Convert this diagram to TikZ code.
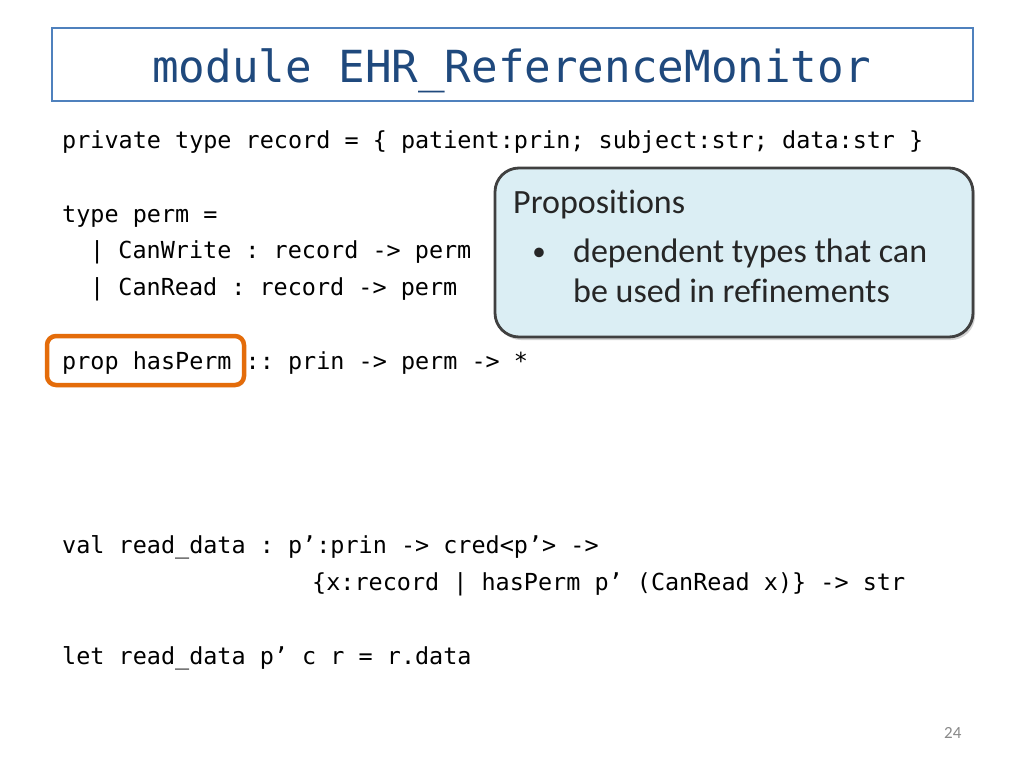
\documentclass[tikz,border=0pt]{standalone}
\usepackage{fontspec}
\usetikzlibrary{shadows}
\newfontfamily\codefont{DejaVu Sans Mono}
\newfontfamily\calfont[Ligatures={NoCommon,NoRequired,NoContextual}]{Carlito}
\definecolor{titleblue}{RGB}{31,73,125}
\definecolor{boxblue}{RGB}{79,129,189}
\definecolor{calloutfill}{RGB}{219,238,244}
\definecolor{calloutdraw}{RGB}{64,64,64}
\definecolor{hlorange}{RGB}{228,108,10}
\definecolor{pagegray}{RGB}{137,137,137}
\definecolor{calltext}{RGB}{38,38,38}
\begin{document}
\frenchspacing
\begin{tikzpicture}[x=1pt,y=-1pt,
  code/.style={anchor=base west,inner sep=0pt,font=\frenchspacing\codefont\fontsize{23.45}{27}\selectfont,text=black},
  calltxt/.style={anchor=base west,inner sep=0pt,font=\calfont\fontsize{34}{40}\selectfont,text=calltext},
  titlebox/.style={draw=boxblue,line width=2pt,minimum width=921pt,minimum height=73pt,inner sep=0pt},
  callout/.style={draw=calloutdraw,line width=2.8pt,fill=calloutfill,rounded corners=24pt,
    minimum width=478pt,minimum height=169pt,inner sep=0pt,
    drop shadow={shadow xshift=2pt,shadow yshift=-3pt,opacity=0.35}},
  hlbox/.style={draw=hlorange,line width=4.5pt,fill=white,rounded corners=9pt,
    minimum width=197pt,minimum height=49pt,inner sep=0pt,
    drop shadow={shadow xshift=1.5pt,shadow yshift=-2pt,opacity=0.25,fill=black!60}}
]
\useasboundingbox[fill=white] (0,0) rectangle (1024,768);

% title
\node[titlebox] (tbox) at (512.5,64.5) {};
\node[anchor=base,inner sep=0pt,font=\codefont\fontsize{44.2}{50}\selectfont,text=titleblue] (title) at (511.5,82) {module EHR\_ReferenceMonitor};

% code
\node[code] (l1) at (62,148) {private type record = \{ patient:prin; subject:str; data:str \}};
\node[code] (l2) at (62,222) {type perm =};
\node[code] (l3) at (90,258.5) {| CanWrite : record -> perm};
\node[code] (l4) at (90,295.5) {| CanRead : record -> perm};
\node[hlbox] (hl) at (145.5,360.5) {};
\node[code] (l5) at (62,369) {prop hasPerm :: prin -> perm -> *};
\node[code] (l6) at (62,553) {val read\_data : p’:prin -> cred<p’> ->};
\node[code] (l7) at (312,590) {\{x:record | hasPerm p’ (CanRead x)\} -> str};
\node[code] (l8) at (62,664) {let read\_data p’ c r = r.data};

% callout
\node[callout] (co) at (734,252.5) {};
\node[calltxt] (cohead) at (513,213) {Propositions};
\node[anchor=base,inner sep=0pt,font=\calfont\fontsize{27}{32}\selectfont,text=calltext] (bul) at (539,260) {•};
\node[calltxt] (cob1) at (573,262) {dependent types that can};
\node[calltxt] (cob2) at (573,302) {be used in refinements};

% page number
\node[anchor=base west,inner sep=0pt,font=\calfont\fontsize{17}{20}\selectfont,text=pagegray] (pg) at (944,738) {24};
\end{tikzpicture}
\end{document}
